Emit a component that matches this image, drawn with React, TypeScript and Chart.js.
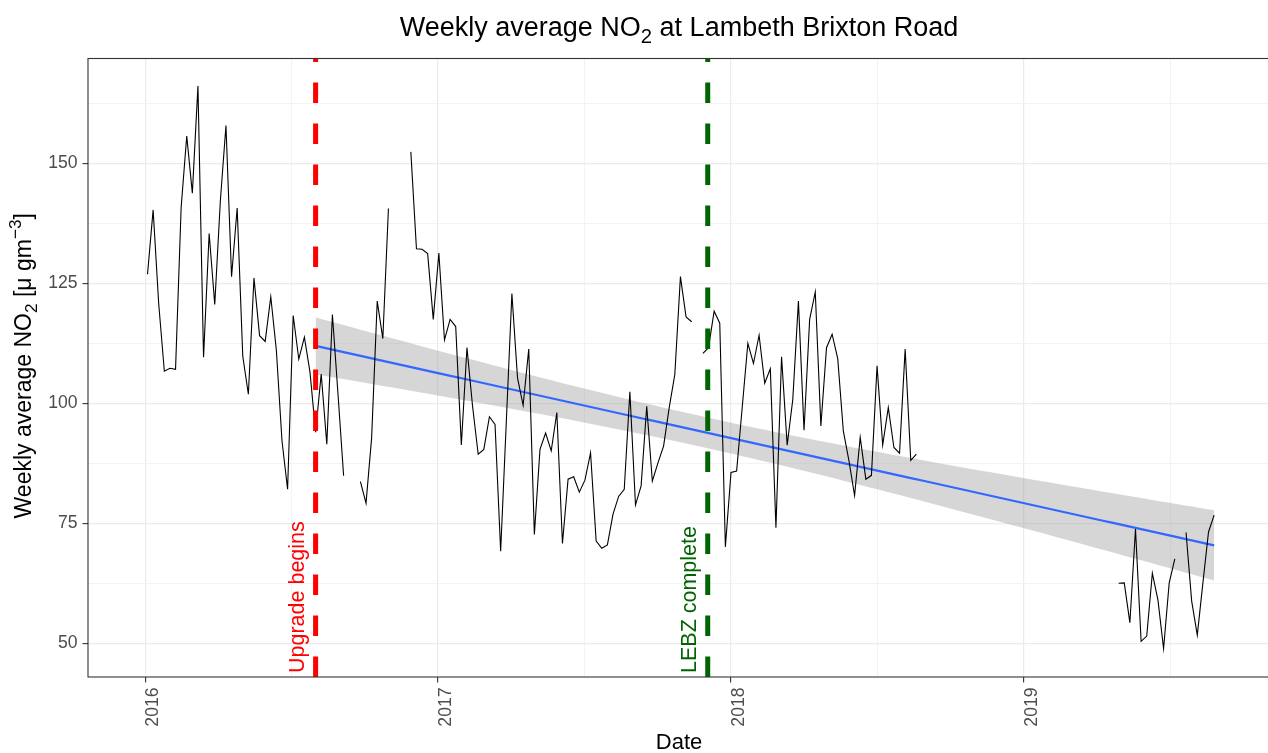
import React, { useEffect, useRef } from 'react';
import { Chart, registerables } from 'chart.js';

Chart.register(...registerables);

const FONT = "'Liberation Sans', Arial, Helvetica, sans-serif";

// ---- data -------------------------------------------------------------
const FIRST_WEEK = '2016-01-04';
const UPGRADE_DATE = '2016-08-01';
const LEBZ_DATE = '2017-12-03';
const UPGRADE_LABEL = 'Upgrade begins';
const LEBZ_LABEL = 'LEBZ complete';

// weekly averages, one value per week starting at FIRST_WEEK (null = no data)
const WEEKS_2016: (number | null)[] = [
  126.9, 140.3, 120.7, 106.7, 107.3, 107.1, 140.8, 155.7, 143.8, 166.1,
  109.6, 135.4, 120.6, 142.2, 157.9, 126.4, 140.7, 109.8, 101.9, 126.1,
  114.1, 112.9, 122.2, 111.0, 92.2, 82.1, 118.3, 109.2, 113.8, 106.5,
  94.0, 106.1, 91.5, 118.5, 101.9, 84.9, null, null, 83.7, 79.2,
  92.8, 121.3, 113.5, 140.6, null, null, null, 152.4, 132.2, 132.1,
  131.2, 117.5,
];
const WEEKS_2017: (number | null)[] = [
  131.3, 113.2, 117.5, 116.0, 91.3, 111.6, 99.4, 89.4, 90.4, 97.2,
  95.6, 69.2, 96.0, 122.9, 105.3, 99.6, 111.3, 72.7, 90.4, 93.8,
  90.1, 98.1, 70.8, 84.2, 84.7, 81.5, 84.0, 89.7, 71.3, 69.8,
  70.5, 76.9, 80.6, 82.1, 102.4, 78.8, 82.8, 99.4, 83.8, 87.6,
  91.1, 99.1, 106.0, 126.4, 118.0, 117.0, null, 110.4, 111.6, 119.2,
  116.7, 70.1,
];
const WEEKS_2018: (number | null)[] = [
  85.6, 85.9, 99.2, 112.5, 108.3, 114.2, 104.2, 107.2, 74.1, 109.7,
  91.3, 100.8, 121.3, 94.4, 117.5, 123.2, 95.3, 111.6, 114.4, 109.3,
  94.2, 88.0, 80.8, 92.9, 84.2, 85.0, 107.8, 91.3, 99.1, 90.8,
  89.6, 111.3, 88.1, 89.4, null, null, null, null, null, null,
  null, null, null, null, null, null, null, null, null, null,
  null, null,
];
const WEEKS_2019: (number | null)[] = [
  null, null, null, null, null, null, null, null, null, null,
  null, null, null, null, null, null, null, 62.5, 62.6, 54.3,
  73.8, 50.4, 51.5, 64.6, 59.0, 48.9, 62.6, 67.6, null, 73.1,
  58.8, 51.7, 62.6, 73.2, 76.7,
];

const Y_MAJOR = [50, 75, 100, 125, 150];
const Y_GRID = [50, 62.5, 75, 87.5, 100, 112.5, 125, 137.5, 150, 162.5];
const X_MAJOR = [2016, 2017, 2018, 2019];
const X_GRID = [2016, 2016.5, 2017, 2017.5, 2018, 2018.5, 2019, 2019.5];
const X_RANGE = [2015.805, 2019.84];
const Y_RANGE = [42.98, 171.85];

const TITLE_RUNS = [
  { text: 'Weekly average NO', scale: 1, dy: 0 },
  { text: '2', scale: 0.75, dy: 0.27 },
  { text: ' at Lambeth Brixton Road', scale: 1, dy: 0 },
];
const Y_TITLE_RUNS = [
  { text: 'Weekly average NO', scale: 1, dy: 0 },
  { text: '2', scale: 0.75, dy: 0.27 },
  { text: ' [μ gm', scale: 1, dy: 0 },
  { text: '−3', scale: 0.75, dy: -0.42 },
  { text: ']', scale: 1, dy: 0 },
];
const X_TITLE = 'Date';

// ---- helpers ----------------------------------------------------------
const DAY = 86400000;
function decimalYear(iso: string, addDays = 0): number {
  const [y, m, d] = iso.split('-').map(Number);
  const t = Date.UTC(y, m - 1, d) + addDays * DAY;
  const yr = new Date(t).getUTCFullYear();
  const s = Date.UTC(yr, 0, 1);
  const e = Date.UTC(yr + 1, 0, 1);
  return yr + (t - s) / (e - s);
}

function drawRuns(ctx: CanvasRenderingContext2D, runs: any[], size: number, x: number, y: number, rotate: boolean, color: string) {
  ctx.save();
  ctx.translate(x, y);
  if (rotate) ctx.rotate(-Math.PI / 2);
  ctx.fillStyle = color;
  ctx.textBaseline = 'alphabetic';
  ctx.textAlign = 'left';
  let total = 0;
  const widths = runs.map((r) => {
    ctx.font = `${size * r.scale}px ${FONT}`;
    const w = ctx.measureText(r.text).width;
    total += w;
    return w;
  });
  let cx = -total / 2;
  runs.forEach((r, i) => {
    ctx.font = `${size * r.scale}px ${FONT}`;
    ctx.fillText(r.text, cx, r.dy * size);
    cx += widths[i];
  });
  ctx.restore();
}

export default function App() {
  const ref = useRef<HTMLCanvasElement | null>(null);

  useEffect(() => {
    const canvas = ref.current;
    if (!canvas) return;

    const weekly = [...WEEKS_2016, ...WEEKS_2017, ...WEEKS_2018, ...WEEKS_2019];
    const points = weekly.map((v, i) => ({ x: decimalYear(FIRST_WEEK, i * 7), y: v }));

    // linear model on data from the upgrade onwards (like geom_smooth(method = "lm"))
    const x0 = decimalYear(UPGRADE_DATE);
    const sub = points.filter((p) => p.y !== null && p.x >= x0 - 1e-9) as { x: number; y: number }[];
    const n = sub.length;
    const mx = sub.reduce((s, p) => s + p.x, 0) / n;
    const my = sub.reduce((s, p) => s + p.y, 0) / n;
    let sxx = 0, sxy = 0;
    sub.forEach((p) => { sxx += (p.x - mx) ** 2; sxy += (p.x - mx) * (p.y - my); });
    const b = sxy / sxx;
    const a = my - b * mx;
    let sse = 0;
    sub.forEach((p) => { sse += (p.y - (a + b * p.x)) ** 2; });
    const s2 = sse / (n - 2);
    const tq = 1.977;
    const xa = sub[0].x;
    const xb = sub[sub.length - 1].x;
    const fit: { x: number; y: number }[] = [];
    const lo: { x: number; y: number }[] = [];
    const hi: { x: number; y: number }[] = [];
    for (let k = 0; k <= 80; k++) {
      const xx = xa + ((xb - xa) * k) / 80;
      const yy = a + b * xx;
      const se = Math.sqrt(s2 * (1 / n + (xx - mx) ** 2 / sxx));
      fit.push({ x: xx, y: yy });
      lo.push({ x: xx, y: yy - tq * se });
      hi.push({ x: xx, y: yy + tq * se });
    }

    const isMajorY = (v: number) => Y_MAJOR.includes(v);
    const isMajorX = (v: number) => X_MAJOR.includes(v);

    const decor = {
      id: 'decor',
      beforeDraw(chart: any) {
        const c = chart.ctx;
        c.save();
        c.fillStyle = '#ffffff';
        c.fillRect(0, 0, chart.width, chart.height);
        c.restore();
      },
      afterDatasetsDraw(chart: any) {
        const { ctx, chartArea: ar, scales } = chart;
        const xs = scales.x;
        ctx.save();
        ctx.beginPath();
        ctx.rect(ar.left, ar.top, ar.right - ar.left, ar.bottom - ar.top);
        ctx.clip();
        const vl = [
          { date: UPGRADE_DATE, color: '#ff0000', label: UPGRADE_LABEL },
          { date: LEBZ_DATE, color: '#006400', label: LEBZ_LABEL },
        ];
        for (const v of vl) {
          const px = xs.getPixelForValue(decimalYear(v.date));
          ctx.strokeStyle = v.color;
          ctx.lineWidth = 5;
          ctx.lineCap = 'butt';
          ctx.setLineDash([20.5, 20.5]);
          ctx.beginPath();
          ctx.moveTo(px, ar.bottom);
          ctx.lineTo(px, ar.top);
          ctx.stroke();
          ctx.setLineDash([]);
          ctx.save();
          ctx.translate(px - 11.5, ar.bottom - 4);
          ctx.rotate(-Math.PI / 2);
          ctx.font = `21.5px ${FONT}`;
          ctx.fillStyle = v.color;
          ctx.textAlign = 'left';
          ctx.textBaseline = 'alphabetic';
          ctx.fillText(v.label, 0, 0);
          ctx.restore();
        }
        ctx.restore();
        ctx.save();
        ctx.strokeStyle = '#333333';
        ctx.lineWidth = 1.1;
        ctx.strokeRect(ar.left, ar.top, ar.right - ar.left, ar.bottom - ar.top);
        ctx.restore();
      },
      afterDraw(chart: any) {
        const { ctx, chartArea: ar } = chart;
        const cx = 679;
        drawRuns(ctx, TITLE_RUNS, 27, cx, 35.5, false, '#000000');
        drawRuns(ctx, Y_TITLE_RUNS, 23, 31, (ar.top + ar.bottom) / 2 - 2, true, '#000000');
        drawRuns(ctx, [{ text: X_TITLE, scale: 1, dy: 0 }], 22, cx, 749, false, '#000000');
      },
    };

    const chart = new Chart(canvas, {
      type: 'line',
      data: {
        datasets: [
          {
            label: 'Weekly average NO2',
            data: points as any,
            borderColor: '#000000',
            borderWidth: 1.1,
            pointRadius: 0,
            spanGaps: false,
            tension: 0,
            fill: false,
          },
          {
            label: 'Linear fit',
            data: fit as any,
            borderColor: '#3366FF',
            borderWidth: 2.2,
            pointRadius: 0,
            tension: 0,
            fill: false,
          },
          {
            label: 'CI lower',
            data: lo as any,
            borderColor: 'rgba(0,0,0,0)',
            borderWidth: 0,
            pointRadius: 0,
            tension: 0,
            fill: false,
          },
          {
            label: 'CI upper',
            data: hi as any,
            borderColor: 'rgba(0,0,0,0)',
            borderWidth: 0,
            pointRadius: 0,
            tension: 0,
            fill: '-1',
            backgroundColor: 'rgba(153,153,153,0.4)',
          },
        ],
      },
      options: {
        responsive: false,
        animation: false,
        events: [],
        layout: { padding: { top: 58.5, right: 10, left: 0, bottom: 0 } },
        plugins: {
          legend: { display: false },
          tooltip: { enabled: false },
          title: { display: false },
        },
        scales: {
          x: {
            type: 'linear',
            min: X_RANGE[0],
            max: X_RANGE[1],
            afterBuildTicks: (axis: any) => { axis.ticks = X_GRID.map((v) => ({ value: v })); },
            afterFit: (axis: any) => { axis.height = 76; },
            border: { display: false },
            grid: {
              color: (c: any) => (c.tick && isMajorX(c.tick.value) ? '#ebebeb' : '#f3f3f3'),
              lineWidth: (c: any) => (c.tick && isMajorX(c.tick.value) ? 1.2 : 1),
              tickColor: (c: any) => (c.tick && isMajorX(c.tick.value) ? '#333333' : 'rgba(0,0,0,0)'),
              tickLength: 5.5,
              tickWidth: 1.1,
            },
            ticks: {
              autoSkip: false,
              minRotation: 90,
              maxRotation: 90,
              padding: 5,
              labelOffset: 8,
              color: '#4d4d4d',
              font: { family: FONT, size: 17.6 },
              callback: (v: any) => (isMajorX(Number(v)) ? String(v) : ''),
            },
          },
          y: {
            type: 'linear',
            min: Y_RANGE[0],
            max: Y_RANGE[1],
            afterBuildTicks: (axis: any) => { axis.ticks = Y_GRID.map((v) => ({ value: v })); },
            afterFit: (axis: any) => { axis.width = 88; },
            border: { display: false },
            grid: {
              color: (c: any) => (c.tick && isMajorY(c.tick.value) ? '#ebebeb' : '#f3f3f3'),
              lineWidth: (c: any) => (c.tick && isMajorY(c.tick.value) ? 1.2 : 1),
              tickColor: (c: any) => (c.tick && isMajorY(c.tick.value) ? '#333333' : 'rgba(0,0,0,0)'),
              tickLength: 5.5,
              tickWidth: 1.1,
            },
            ticks: {
              autoSkip: false,
              padding: 5,
              color: '#4d4d4d',
              font: { family: FONT, size: 17.6 },
              callback: (v: any) => (isMajorY(Number(v)) ? String(v) : ''),
            },
          },
        },
      },
      plugins: [decor],
    } as any);

    return () => chart.destroy();
  }, []);

  return (
    <div style={{ position: 'fixed', left: 0, top: 0, width: 1268, height: 753, overflow: 'hidden', background: '#fff' }}>
      <canvas ref={ref} width={1280} height={753} style={{ display: 'block', width: 1280, height: 753 }} />
    </div>
  );
}
